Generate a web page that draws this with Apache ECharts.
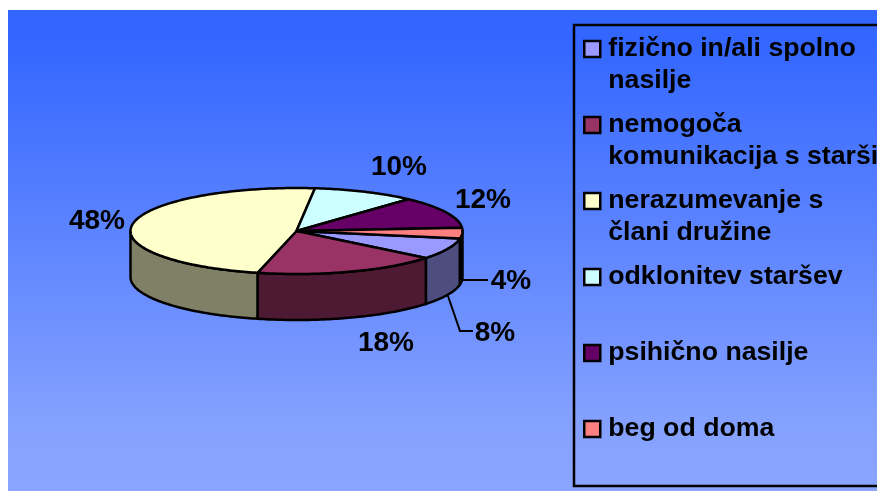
<!DOCTYPE html>
<html>
<head>
<meta charset="utf-8">
<style>
  html, body { margin: 0; padding: 0; background: #fff; }
  #chart { width: 877px; height: 491px; }
</style>
<script src="https://cdn.jsdelivr.net/npm/echarts@6/dist/echarts.min.js"></script>
</head>
<body>
<div id="chart"></div>
<script>
var categories = ['fizično in/ali spolno\nnasilje', 'nemogoča\nkomunikacija s starši', 'nerazumevanje s\nčlani družine', 'odklonitev staršev', 'psihično nasilje', 'beg od doma'];
var values = [8, 18, 48, 10, 12, 4];
var colors = ['#9999FF', '#993366', '#FFFFCC', '#CCFFFF', '#660066', '#FF8080'];
var sideColors = ['#4D4D80', '#4D1933', '#808066', '#668080', '#330033', '#804040'];

// pie shape on screen
var cx = 296.5, cy = 231, rx = 166, ry = 43, depth = 46;
var startDeg = 10;
var total = values.reduce(function (a, b) { return a + b; }, 0);
var font = 'bold 28px "Liberation Sans", Arial, sans-serif';

// label anchors, same order as values
var labelPos = [[495, 333], [386, 343], [97, 221], [399, 167], [483, 200], [511, 281]];
var leaders = {
  0: [[448, 296], [460, 331], [473, 331]],
  5: [[463, 280], [488, 280]]
};

function point(deg, dy) {
  var t = deg * Math.PI / 180;
  return [cx + rx * Math.cos(t), cy + ry * Math.sin(t) + (dy || 0)];
}

function arc(from, to, dy) {
  var pts = [];
  var n = Math.max(2, Math.ceil(Math.abs(to - from)));
  for (var i = 0; i <= n; i++) {
    pts.push(point(from + (to - from) * i / n, dy));
  }
  return pts;
}

function sliceRange(idx) {
  var before = values.slice(0, idx).reduce(function (a, b) { return a + b; }, 0);
  var from = startDeg + before / total * 360;
  return [from, from + values[idx] / total * 360];
}

function makeRender(idx) {
  return function (params, api) {
    var range = sliceRange(idx);
    var value = api.value(0);
    var line = { stroke: '#000', lineWidth: 2.5, lineJoin: 'round' };
    var children = [];

    // front wall, only the part between 0 and 180 degrees shows
    var parts = [[range[0], range[1]], [range[0] - 360, range[1] - 360]];
    parts.forEach(function (p) {
      var a = Math.max(p[0], 0), b = Math.min(p[1], 180);
      if (b > a) {
        children.push({
          type: 'polygon',
          z2: 1,
          shape: { points: arc(a, b, 0).concat(arc(b, a, depth)) },
          style: Object.assign({ fill: sideColors[idx] }, line)
        });
      }
    });

    children.push({
      type: 'polygon',
      z2: 2,
      shape: { points: [[cx, cy]].concat(arc(range[0], range[1], 0)) },
      style: Object.assign({ fill: colors[idx] }, line)
    });

    if (leaders[idx]) {
      children.push({
        type: 'polyline',
        z2: 3,
        shape: { points: leaders[idx] },
        style: { stroke: '#000', lineWidth: 2, fill: 'none' }
      });
    }

    children.push({
      type: 'text',
      z2: 4,
      style: {
        text: value + '%',
        x: labelPos[idx][0],
        y: labelPos[idx][1],
        fill: '#000',
        font: font,
        align: 'center',
        verticalAlign: 'middle'
      }
    });

    return { type: 'group', children: children };
  };
}

var chart = echarts.init(document.getElementById('chart'));

chart.setOption({
  animation: false,
  graphic: [{
    type: 'rect',
    z: -1,
    shape: { x: 8, y: 10, width: 869, height: 481 },
    style: {
      fill: new echarts.graphic.LinearGradient(0, 0, 0, 1, [
        { offset: 0, color: '#3366FF' },
        { offset: 0.06, color: '#3366FF' },
        { offset: 0.86, color: '#85A1FF' },
        { offset: 1, color: '#8AA5FF' }
      ])
    }
  }, {
    type: 'rect',
    z: 1,
    shape: { x: 574, y: 25, width: 400, height: 461 },
    style: { fill: 'none', stroke: '#000', lineWidth: 2.5 }
  }],
  legend: {
    orient: 'vertical',
    left: 583,
    top: 1,
    height: 490,
    padding: 0,
    itemWidth: 16,
    itemHeight: 16,
    itemGap: -20,
    icon: 'rect',
    selectedMode: false,
    itemStyle: { borderColor: '#000', borderWidth: 2.5 },
    textStyle: {
      color: '#000',
      fontWeight: 'bold',
      fontSize: 26.7,
      fontFamily: '"Liberation Sans", Arial, sans-serif',
      lineHeight: 32,
      padding: [0, 0, 0, 3]
    },
    // blank first line keeps the icon level with the first line of the name
    formatter: function (name) {
      return ' \n' + (name.indexOf('\n') >= 0 ? name : name + '\n ');
    },
    data: categories
  },
  series: categories.map(function (name, idx) {
    return {
      type: 'custom',
      name: name,
      coordinateSystem: 'none',
      silent: true,
      itemStyle: { color: colors[idx] },
      renderItem: makeRender(idx),
      data: [[values[idx]]]
    };
  })
});
</script>
</body>
</html>
